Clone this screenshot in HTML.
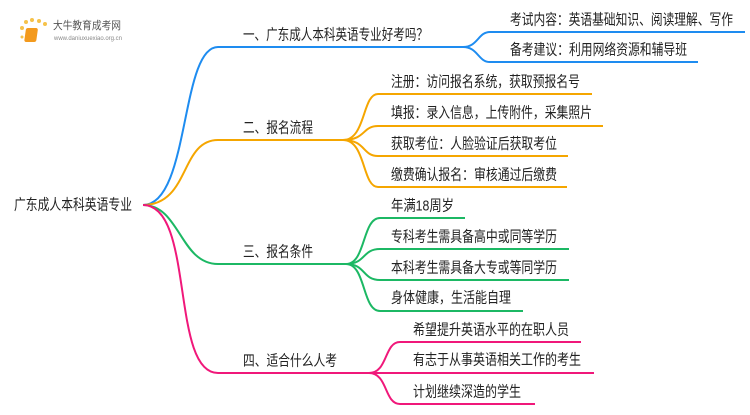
<!DOCTYPE html>
<html><head><meta charset="utf-8"><style>
html,body{margin:0;padding:0;background:#fff;}
svg text{font-family:"Liberation Sans","Noto Sans CJK SC",sans-serif;font-size:15px;fill:#222;dominant-baseline:central;}
</style></head><body>
<svg width="750" height="410" viewBox="0 0 750 410" xmlns="http://www.w3.org/2000/svg">
<g>
<circle cx="22" cy="28" r="2" fill="#f6c24a"/><circle cx="26" cy="22" r="2" fill="#f6c24a"/><circle cx="32" cy="20" r="2" fill="#f6c24a"/><circle cx="39" cy="21" r="2" fill="#f6c24a"/><circle cx="45" cy="24" r="2" fill="#f6c24a"/><circle cx="22" cy="37" r="1.5" fill="#f6c24a"/>
<rect x="30" y="28" width="12" height="14" rx="2" fill="#f39a1e" transform="skewX(-8)"/>
<text x="53" y="26" style="font-size:11px;fill:#555" textLength="68" lengthAdjust="spacingAndGlyphs">大牛教育成考网</text>
<text x="54" y="39" style="font-size:6px;fill:#888" textLength="68" lengthAdjust="spacingAndGlyphs">www.daniuxuexiao.org.cn</text>
</g>
<g fill="none" stroke-width="2">
<path d="M143,205 C190,205 180,47 218,47 L463,47" stroke="#1e8cf0"/>
<path d="M463,47 C478,47 478,32 490,32 L745,32" stroke="#1e8cf0"/>
<path d="M463,47 C478,47 478,62 490,62 L698,62" stroke="#1e8cf0"/>
<path d="M143,205 C190,205 180,140 218,140 L343,140" stroke="#f5a600"/>
<path d="M343,140 C366,140 362,94 378,94 L592,94" stroke="#f5a600"/>
<path d="M343,140 C366,140 362,126 378,126 L603,126" stroke="#f5a600"/>
<path d="M343,140 C366,140 362,156 378,156 L568,156" stroke="#f5a600"/>
<path d="M343,140 C366,140 362,187 378,187 L567,187" stroke="#f5a600"/>
<path d="M143,205 C180,205 180,264 218,264 L346,264" stroke="#1cb864"/>
<path d="M346,264 C366,264 362,218 380,218 L465,218" stroke="#1cb864"/>
<path d="M346,264 C366,264 362,249 380,249 L569,249" stroke="#1cb864"/>
<path d="M346,264 C366,264 362,280 380,280 L569,280" stroke="#1cb864"/>
<path d="M346,264 C366,264 362,311 380,311 L523,311" stroke="#1cb864"/>
<path d="M143,205 C195,205 170,373 218,373 L369,373" stroke="#f0187a"/>
<path d="M369,373 C388,373 384,342 400,342 L581,342" stroke="#f0187a"/>
<path d="M369,373 L594,373" stroke="#f0187a"/>
<path d="M369,373 C388,373 384,404 400,404 L535,404" stroke="#f0187a"/>
</g>
<text x="14" y="205" textLength="118" lengthAdjust="spacingAndGlyphs">广东成人本科英语专业</text>
<text x="243" y="35" textLength="185" lengthAdjust="spacingAndGlyphs">一、广东成人本科英语专业好考吗？</text>
<text x="510" y="20" textLength="223" lengthAdjust="spacingAndGlyphs">考试内容：英语基础知识、阅读理解、写作</text>
<text x="510" y="50" textLength="177" lengthAdjust="spacingAndGlyphs">备考建议：利用网络资源和辅导班</text>
<text x="243" y="128" textLength="70" lengthAdjust="spacingAndGlyphs">二、报名流程</text>
<text x="391" y="82" textLength="189" lengthAdjust="spacingAndGlyphs">注册：访问报名系统，获取预报名号</text>
<text x="391" y="113" textLength="201" lengthAdjust="spacingAndGlyphs">填报：录入信息，上传附件，采集照片</text>
<text x="391" y="144" textLength="166" lengthAdjust="spacingAndGlyphs">获取考位：人脸验证后获取考位</text>
<text x="391" y="175" textLength="166" lengthAdjust="spacingAndGlyphs">缴费确认报名：审核通过后缴费</text>
<text x="243" y="252" textLength="70" lengthAdjust="spacingAndGlyphs">三、报名条件</text>
<text x="391" y="206" textLength="63" lengthAdjust="spacingAndGlyphs">年满18周岁</text>
<text x="391" y="237" textLength="166" lengthAdjust="spacingAndGlyphs">专科考生需具备高中或同等学历</text>
<text x="391" y="268" textLength="166" lengthAdjust="spacingAndGlyphs">本科考生需具备大专或等同学历</text>
<text x="391" y="298" textLength="120" lengthAdjust="spacingAndGlyphs">身体健康，生活能自理</text>
<text x="243" y="361" textLength="94" lengthAdjust="spacingAndGlyphs">四、适合什么人考</text>
<text x="413" y="330" textLength="156" lengthAdjust="spacingAndGlyphs">希望提升英语水平的在职人员</text>
<text x="413" y="360" textLength="168" lengthAdjust="spacingAndGlyphs">有志于从事英语相关工作的考生</text>
<text x="413" y="392" textLength="108" lengthAdjust="spacingAndGlyphs">计划继续深造的学生</text>
</svg>
</body></html>
